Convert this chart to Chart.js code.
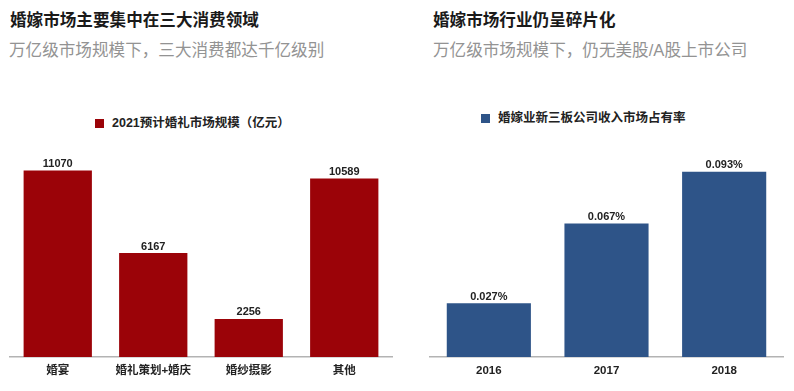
<!DOCTYPE html>
<html>
<head>
<meta charset="utf-8">
<script src="https://cdn.jsdelivr.net/npm/chart.js@4/dist/chart.umd.min.js"></script>
<style>
  html, body { margin:0; padding:0; background:#fff; }
  body { width:794px; height:391px; position:relative; overflow:hidden;
         font-family:"Liberation Sans","Noto Sans CJK SC",sans-serif; }
  .title { position:absolute; font-weight:bold; font-size:16.6px; color:#1a1a1a; white-space:nowrap; line-height:20px; }
  .sub { position:absolute; font-size:16.6px; color:#939393; white-space:nowrap; line-height:20px; }
  .legend { position:absolute; font-weight:bold; font-size:12.5px; color:#222; white-space:nowrap; line-height:14px; }
  .legend i { display:inline-block; width:9px; height:9px; margin-right:8px; vertical-align:-1px; }
  canvas { position:absolute; }
</style>
</head>
<body>
<div class="title" style="left:10px;top:11px;">婚嫁市场主要集中在三大消费领域</div>
<div class="sub" style="left:9px;top:41px;">万亿级市场规模下，三大消费都达千亿级别</div>
<div class="title" style="left:433px;top:11px;">婚嫁市场行业仍呈碎片化</div>
<div class="sub" style="left:433px;top:41px;">万亿级市场规模下，仍无美股/A股上市公司</div>
<div class="legend" id="legL" style="left:95px;top:116px;"></div>
<div class="legend" id="legR" style="left:481px;top:111px;"></div>
<canvas id="cL" width="400" height="253" style="left:0;top:138px;"></canvas>
<canvas id="cR" width="394" height="253" style="left:400px;top:138px;"></canvas>
<script>
// ---- data ----
const leftCategories = ["婚宴", "婚礼策划+婚庆", "婚纱摄影", "其他"];
const leftValues = [11070, 6167, 2256, 10589];
const leftLabel = "2021预计婚礼市场规模（亿元）";
const rightCategories = ["2016", "2017", "2018"];
const rightValues = [0.027, 0.067, 0.093];
const rightLabel = "婚嫁业新三板公司收入市场占有率";

const RED = "#9b0308";
const BLUE = "#2e5488";
const FONT = "'Liberation Sans','Noto Sans CJK SC',sans-serif";

document.getElementById("legL").innerHTML = '<i style="background:' + RED + '"></i>' + leftLabel;
document.getElementById("legR").innerHTML = '<i style="background:' + BLUE + '"></i>' + rightLabel;

const valueLabels = {
  id: "valueLabels",
  afterDatasetsDraw(chart, args, opts) {
    const ctx = chart.ctx;
    ctx.save();
    ctx.font = "bold 11px " + FONT;
    ctx.fillStyle = "#222";
    ctx.textAlign = "center";
    ctx.textBaseline = "alphabetic";
    chart.data.datasets.forEach((ds, di) => {
      chart.getDatasetMeta(di).data.forEach((bar, i) => {
        ctx.fillText(opts.fmt(ds.data[i]), bar.x, bar.y - 3.5);
      });
    });
    ctx.restore();
  }
};

function makeChart(id, cats, vals, label, color, ymax, pad, fmt) {
  return new Chart(document.getElementById(id), {
    type: "bar",
    data: {
      labels: cats,
      datasets: [{ label: label, data: vals, backgroundColor: color, borderWidth: 0,
                   categoryPercentage: 1.0, barPercentage: 0.715 }]
    },
    options: {
      responsive: false,
      animation: false,
      devicePixelRatio: 1,
      layout: { padding: { left: pad[0], right: pad[1], top: 0, bottom: 0 } },
      plugins: { legend: { display: false }, tooltip: { enabled: false }, valueLabels: { fmt: fmt } },
      scales: {
        y: { display: false, min: 0, max: ymax },
        x: {
          grid: { display: false, drawTicks: false },
          border: { display: true, color: "#b3b3b3", width: 1.5 },
          ticks: { color: "#222", font: { family: FONT, size: 11.5, weight: "bold" }, padding: 7 },
          afterFit(scale) { scale.height = 34; }
        }
      }
    },
    plugins: [valueLabels]
  });
}

makeChart("cL", leftCategories, leftValues, leftLabel, RED, 13000, [10, 8], v => String(v));
makeChart("cR", rightCategories, rightValues, rightLabel, BLUE, 0.11, [30, 11], v => v.toFixed(3) + "%");
</script>
</body>
</html>
